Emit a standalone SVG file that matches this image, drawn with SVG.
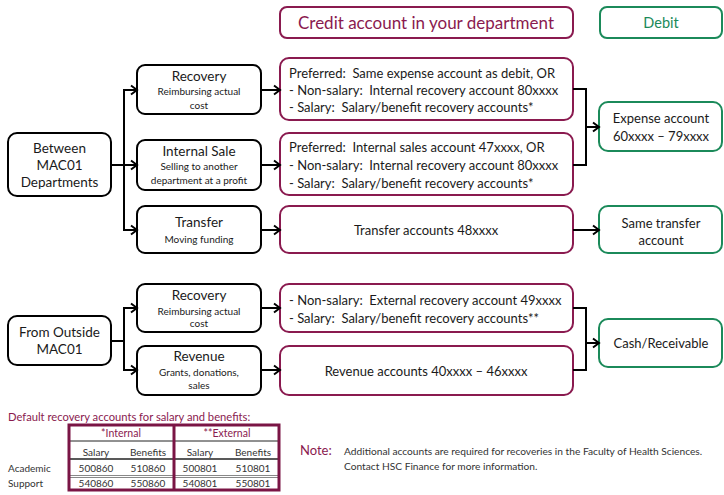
<svg xmlns="http://www.w3.org/2000/svg" width="724" height="495" viewBox="0 0 724 495">
<defs>
<marker id="arr" markerUnits="userSpaceOnUse" markerWidth="12" markerHeight="12" refX="9" refY="6" orient="auto">
<path d="M3,1.5 L9,6 L3,10.5" fill="none" stroke="#000" stroke-width="2"/>
</marker>
<style>
text{font-family:Lato,"Liberation Sans",sans-serif;fill:#1a1a1a;white-space:pre}
.bx{fill:#fff;stroke:#000;stroke-width:2}
.cr{fill:#fff;stroke:#8a1a4f;stroke-width:2}
.db{fill:#fff;stroke:#1b8a5a;stroke-width:2}
.m{font-size:13.5px;text-anchor:middle}
.s{font-size:10px;text-anchor:middle}
.c{font-size:13px}
.cc{font-size:13px;text-anchor:middle}
.ln{fill:none;stroke:#000;stroke-width:2}
.t{font-size:10px;text-anchor:middle;fill:#333}
.tl{font-size:10px;fill:#333}
</style>
</defs>

<g id="credit-header"><rect class="cr" x="280" y="7" width="293" height="31" rx="7"/><text x="426" y="29" style="font-size:17px;text-anchor:middle;fill:#8a1a4f">Credit account in your department</text></g>
<g id="debit-header"><rect class="db" x="600" y="7" width="122" height="31" rx="7"/><text x="661" y="28" style="font-size:14.5px;text-anchor:middle;fill:#1b8a5a">Debit</text></g>

<g id="between"><rect class="bx" x="8" y="133" width="103" height="63" rx="9"/><text class="m" x="59.5" y="153">Between</text><text class="m" x="59.5" y="170">MAC01</text><text class="m" x="59.5" y="187">Departments</text></g>
<g id="recovery1"><rect class="bx" x="137" y="65" width="124" height="49" rx="8"/><text class="m" x="199" y="81">Recovery</text><text class="s" x="199" y="94.5">Reimbursing actual</text><text class="s" x="199" y="108.5">cost</text></g>
<g id="internal-sale"><rect class="bx" x="137" y="140" width="124" height="50" rx="8"/><text class="m" x="199" y="156">Internal Sale</text><text class="s" x="199" y="169.5">Selling to another</text><text class="s" x="199" y="183.5">department at a profit</text></g>
<g id="transfer"><rect class="bx" x="137" y="206" width="124" height="47" rx="8"/><text class="m" x="199" y="227">Transfer</text><text class="s" x="199" y="242.5">Moving funding</text></g>

<g id="credit-recovery1"><rect class="cr" x="280" y="58" width="293" height="62" rx="9"/><text class="c" x="289" y="77.5">Preferred:  Same expense account as debit, OR</text><text class="c" x="289" y="94.5">- Non-salary:  Internal recovery account 80xxxx</text><text class="c" x="289" y="111.5">- Salary:  Salary/benefit recovery accounts*</text></g>
<g id="credit-sale"><rect class="cr" x="280" y="133" width="293" height="62" rx="9"/><text class="c" x="289" y="151.5">Preferred:  Internal sales account 47xxxx, OR</text><text class="c" x="289" y="170">- Non-salary:  Internal recovery account 80xxxx</text><text class="c" x="289" y="187.5">- Salary:  Salary/benefit recovery accounts*</text></g>
<g id="credit-transfer"><rect class="cr" x="280" y="206" width="293" height="47" rx="9"/><text class="cc" x="426" y="234.5">Transfer accounts 48xxxx</text></g>

<g id="expense"><rect class="db" x="599" y="102" width="123" height="49" rx="9"/><text class="cc" x="661" y="123">Expense account</text><text class="cc" x="661" y="141">60xxxx – 79xxxx</text></g>
<g id="same-transfer"><rect class="db" x="599" y="206" width="123" height="47" rx="9"/><text class="cc" x="661" y="228">Same transfer</text><text class="cc" x="661" y="245">account</text></g>

<g id="outside"><rect class="bx" x="8" y="316" width="103" height="49" rx="9"/><text class="m" x="59.5" y="337">From Outside</text><text class="m" x="59.5" y="354">MAC01</text></g>
<g id="recovery2"><rect class="bx" x="137" y="284" width="124" height="48" rx="8"/><text class="m" x="199" y="300">Recovery</text><text class="s" x="199" y="314.5">Reimbursing actual</text><text class="s" x="199" y="326.5">cost</text></g>
<g id="revenue"><rect class="bx" x="137" y="346" width="124" height="49" rx="8"/><text class="m" x="199" y="361">Revenue</text><text class="s" x="199" y="375.5">Grants, donations,</text><text class="s" x="199" y="388.5">sales</text></g>

<g id="credit-recovery2"><rect class="cr" x="280" y="284" width="293" height="48" rx="9"/><text class="c" x="289" y="304.5">- Non-salary:  External recovery account 49xxxx</text><text class="c" x="289" y="322.5">- Salary:  Salary/benefit recovery accounts**</text></g>
<g id="credit-revenue"><rect class="cr" x="280" y="346" width="293" height="49" rx="9"/><text class="cc" x="426" y="375.5">Revenue accounts 40xxxx – 46xxxx</text></g>
<g id="cash"><rect class="db" x="599" y="319" width="123" height="48" rx="9"/><text class="cc" x="661" y="347.5">Cash/Receivable</text></g>

<g id="connectors">
<path class="ln" d="M111,165 H124 M124,89 V230"/>
<path class="ln" d="M123,90 H137" marker-end="url(#arr)"/>
<path class="ln" d="M124,165 H137" marker-end="url(#arr)"/>
<path class="ln" d="M123,230 H137" marker-end="url(#arr)"/>
<path class="ln" d="M261,90 H280" marker-end="url(#arr)"/>
<path class="ln" d="M261,165 H280" marker-end="url(#arr)"/>
<path class="ln" d="M261,230 H280" marker-end="url(#arr)"/>
<path class="ln" d="M573,89 H586 V165 H573"/>
<path class="ln" d="M586,127 H599" marker-end="url(#arr)"/>
<path class="ln" d="M573,230 H599" marker-end="url(#arr)"/>
<path class="ln" d="M111,341 H124 M124,307 V371"/>
<path class="ln" d="M123,308 H137" marker-end="url(#arr)"/>
<path class="ln" d="M123,370 H137" marker-end="url(#arr)"/>
<path class="ln" d="M261,308 H280" marker-end="url(#arr)"/>
<path class="ln" d="M261,370 H280" marker-end="url(#arr)"/>
<path class="ln" d="M573,308 H586 V370 H573"/>
<path class="ln" d="M586,343 H599" marker-end="url(#arr)"/>
</g>

<g id="table">
<text x="8" y="421" style="font-size:11.2px;fill:#8a1a4f">Default recovery accounts for salary and benefits:</text>
<line x1="69" y1="441" x2="279" y2="441" stroke="#222" stroke-width="1"/>
<line x1="69" y1="459" x2="279" y2="459" stroke="#222" stroke-width="1.5"/>
<line x1="69" y1="475.5" x2="279" y2="475.5" stroke="#888" stroke-width="1"/>
<line x1="69" y1="477.5" x2="279" y2="477.5" stroke="#888" stroke-width="1"/>
<rect x="69" y="425" width="210" height="65" fill="none" stroke="#7a1545" stroke-width="3"/>
<line x1="174" y1="425" x2="174" y2="490" stroke="#7a1545" stroke-width="3"/>
<text x="121" y="437" style="font-size:10.5px;text-anchor:middle;fill:#8a1a4f">*Internal</text>
<text x="227" y="437" style="font-size:10.5px;text-anchor:middle;fill:#8a1a4f">**External</text>
<text class="t" x="96" y="455.5">Salary</text><text class="t" x="148" y="455.5">Benefits</text>
<text class="t" x="200" y="455.5">Salary</text><text class="t" x="253" y="455.5">Benefits</text>
<text class="tl" x="8" y="471.5">Academic</text>
<text class="t" x="96" y="471.5">500860</text><text class="t" x="148" y="471.5">510860</text>
<text class="t" x="200" y="471.5">500801</text><text class="t" x="253" y="471.5">510801</text>
<text class="tl" x="8" y="487">Support</text>
<text class="t" x="96" y="487">540860</text><text class="t" x="148" y="487">550860</text>
<text class="t" x="200" y="487">540801</text><text class="t" x="253" y="487">550801</text>
</g>

<g id="note">
<text x="300" y="455" style="font-size:13px;fill:#8a1a4f">Note:</text>
<text x="344" y="455" style="font-size:10.2px;fill:#333">Additional accounts are required for recoveries in the Faculty of Health Sciences.</text>
<text x="344" y="470" style="font-size:10.2px;fill:#333">Contact HSC Finance for more information.</text>
</g>
</svg>
